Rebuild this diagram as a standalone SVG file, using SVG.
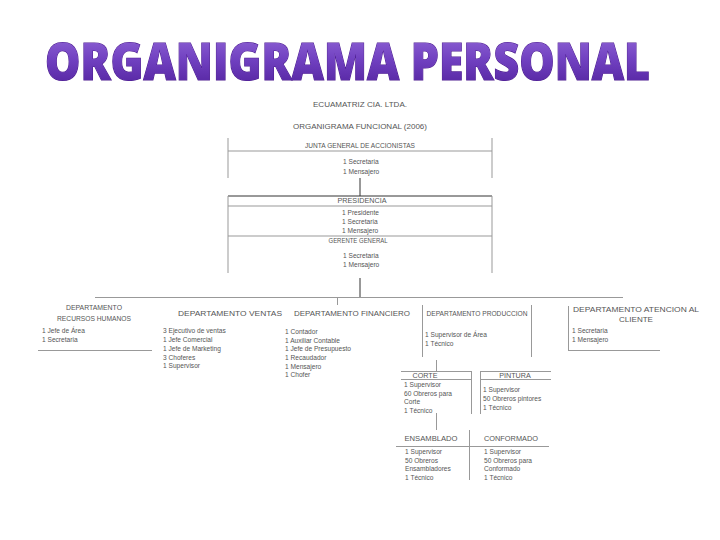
<svg xmlns="http://www.w3.org/2000/svg" width="720" height="540" viewBox="0 0 720 540">
<defs>
<linearGradient id="tg" x1="0" y1="0" x2="0" y2="1">
<stop offset="0" stop-color="#9a70dc"/>
<stop offset="0.5" stop-color="#7040c0"/>
<stop offset="1" stop-color="#4c1c96"/>
</linearGradient>
<style>
.t{font-family:"Liberation Sans",Arial,sans-serif;font-size:6.6px;fill:#555}
.h{font-family:"Liberation Sans",Arial,sans-serif;font-size:7.2px;fill:#555;text-anchor:middle}
.ln{stroke:#999;stroke-width:1;fill:none}
.dk{stroke:#333;stroke-width:1;fill:none}
.title{font-family:"Open Sans","Noto Sans",sans-serif;font-weight:800;font-size:44px;fill:url(#tg);stroke:#4a1a8e;stroke-width:1;paint-order:stroke}
</style>
</defs>
<rect width="720" height="540" fill="#fff"/>
<g id="title">
<text class="title" transform="translate(45,80) scale(1,1.18)" x="0" y="0" textLength="605" lengthAdjust="spacingAndGlyphs">ORGANIGRAMA PERSONAL</text>
</g>
<g id="header">
<text class="h" x="360" y="107" textLength="94" lengthAdjust="spacingAndGlyphs">ECUAMATRIZ CIA. LTDA.</text>
<text class="h" x="360" y="129" textLength="134" lengthAdjust="spacingAndGlyphs">ORGANIGRAMA FUNCIONAL (2006)</text>
</g>
<g id="connectors">
<line class="dk" x1="360" y1="178" x2="360" y2="196"/>
<line class="dk" x1="360" y1="278" x2="360" y2="298"/>
<line class="ln" x1="95" y1="297.5" x2="623" y2="297.5"/>
<line class="ln" x1="337.5" y1="297.5" x2="337.5" y2="305"/>
<line class="ln" x1="436.5" y1="360" x2="436.5" y2="371"/>
<line class="ln" x1="436.5" y1="413" x2="436.5" y2="430"/>
</g>
<g id="junta">
<line class="ln" x1="228" y1="138" x2="228" y2="178"/>
<line class="ln" x1="492" y1="138" x2="492" y2="178"/>
<line class="ln" x1="228" y1="151" x2="492" y2="151"/>
<text class="h" x="360" y="148" textLength="110" lengthAdjust="spacingAndGlyphs">JUNTA GENERAL DE ACCIONISTAS</text>
<text class="t" x="343" y="164">1 Secretaria</text>
<text class="t" x="343" y="174">1 Mensajero</text>
</g>
<g id="presidencia">
<line class="dk" x1="228" y1="196" x2="492" y2="196"/>
<line class="ln" x1="228" y1="206" x2="492" y2="206"/>
<line class="ln" x1="228" y1="196" x2="228" y2="273"/>
<line class="ln" x1="492" y1="196" x2="492" y2="273"/>
<text class="h" x="362" y="203" textLength="49" lengthAdjust="spacingAndGlyphs">PRESIDENCIA</text>
<text class="t" x="342" y="215">1 Presidente</text>
<text class="t" x="342" y="224">1 Secretaria</text>
<text class="t" x="342" y="233">1 Mensajero</text>
</g>
<g id="gerente">
<line class="ln" x1="228" y1="236" x2="492" y2="236"/>
<text class="h" x="358" y="243" textLength="59" lengthAdjust="spacingAndGlyphs">GERENTE GENERAL</text>
<text class="t" x="343" y="258">1 Secretaria</text>
<text class="t" x="343" y="267">1 Mensajero</text>
</g>
<g id="rrhh">
<text class="h" x="94" y="310" textLength="56" lengthAdjust="spacingAndGlyphs">DEPARTAMENTO</text>
<text class="h" x="94" y="321" textLength="74" lengthAdjust="spacingAndGlyphs">RECURSOS HUMANOS</text>
<text class="t" x="42" y="333">1 Jefe de Área</text>
<text class="t" x="42" y="342">1 Secretaria</text>
<line class="ln" x1="38" y1="350.5" x2="152" y2="350.5"/>
</g>
<g id="ventas">
<text class="h" x="230" y="316" textLength="104" lengthAdjust="spacingAndGlyphs">DEPARTAMENTO VENTAS</text>
<text class="t" x="163" y="333">3 Ejecutivo de ventas</text>
<text class="t" x="163" y="342">1 Jefe Comercial</text>
<text class="t" x="163" y="351">1 Jefe de Marketing</text>
<text class="t" x="163" y="360">3 Choferes</text>
<text class="t" x="163" y="368">1 Supervisor</text>
</g>
<g id="financiero">
<text class="h" x="352" y="316" textLength="116" lengthAdjust="spacingAndGlyphs">DEPARTAMENTO FINANCIERO</text>
<text class="t" x="285" y="334">1 Contador</text>
<text class="t" x="285" y="343">1 Auxiliar Contable</text>
<text class="t" x="285" y="351">1 Jefe de Presupuesto</text>
<text class="t" x="285" y="360">1 Recaudador</text>
<text class="t" x="285" y="369">1 Mensajero</text>
<text class="t" x="285" y="377">1 Chofer</text>
</g>
<g id="produccion">
<line class="ln" x1="422.5" y1="305" x2="422.5" y2="357"/>
<line class="ln" x1="531.5" y1="305" x2="531.5" y2="357"/>
<text class="h" x="477" y="316" textLength="101" lengthAdjust="spacingAndGlyphs">DEPARTAMENTO PRODUCCION</text>
<text class="t" x="425" y="337">1 Supervisor de Área</text>
<text class="t" x="425" y="346">1 Técnico</text>
</g>
<g id="atencion">
<line class="ln" x1="568.5" y1="306" x2="568.5" y2="350"/>
<line class="ln" x1="568" y1="350.5" x2="660" y2="350.5"/>
<text class="h" x="636" y="312" textLength="126" lengthAdjust="spacingAndGlyphs">DEPARTAMENTO ATENCION AL</text>
<text class="h" x="636" y="322" textLength="34" lengthAdjust="spacingAndGlyphs">CLIENTE</text>
<text class="t" x="572" y="333">1 Secretaria</text>
<text class="t" x="572" y="342">1 Mensajero</text>
</g>
<g id="corte">
<line class="ln" x1="401" y1="371.5" x2="471" y2="371.5"/>
<line class="ln" x1="401" y1="379.5" x2="471" y2="379.5"/>
<line class="ln" x1="471.5" y1="371" x2="471.5" y2="414"/>
<text class="h" x="425" y="378">CORTE</text>
<text class="t" x="404" y="387">1 Supervisor</text>
<text class="t" x="404" y="396">60 Obreros para</text>
<text class="t" x="404" y="404">Corte</text>
<text class="t" x="404" y="413">1 Técnico</text>
</g>
<g id="pintura">
<line class="ln" x1="480" y1="371.5" x2="551" y2="371.5"/>
<line class="ln" x1="480" y1="379.5" x2="551" y2="379.5"/>
<line class="ln" x1="480.5" y1="371" x2="480.5" y2="414"/>
<text class="h" x="515" y="378">PINTURA</text>
<text class="t" x="483" y="392">1 Supervisor</text>
<text class="t" x="483" y="401">50 Obreros pintores</text>
<text class="t" x="483" y="410">1 Técnico</text>
</g>
<g id="ensamblado">
<line class="ln" x1="396" y1="446.5" x2="470" y2="446.5"/>
<line class="ln" x1="469.5" y1="430" x2="469.5" y2="480"/>
<text class="h" x="431" y="441" textLength="53" lengthAdjust="spacingAndGlyphs">ENSAMBLADO</text>
<text class="t" x="405" y="454">1 Supervisor</text>
<text class="t" x="405" y="463">50 Obreros</text>
<text class="t" x="405" y="471">Ensambladores</text>
<text class="t" x="405" y="480">1 Técnico</text>
</g>
<g id="conformado">
<line class="ln" x1="470" y1="446.5" x2="549" y2="446.5"/>
<text class="h" x="511" y="441" textLength="54" lengthAdjust="spacingAndGlyphs">CONFORMADO</text>
<text class="t" x="484" y="454">1 Supervisor</text>
<text class="t" x="484" y="463">50 Obreros para</text>
<text class="t" x="484" y="471">Conformado</text>
<text class="t" x="484" y="480">1 Técnico</text>
</g>
</svg>
